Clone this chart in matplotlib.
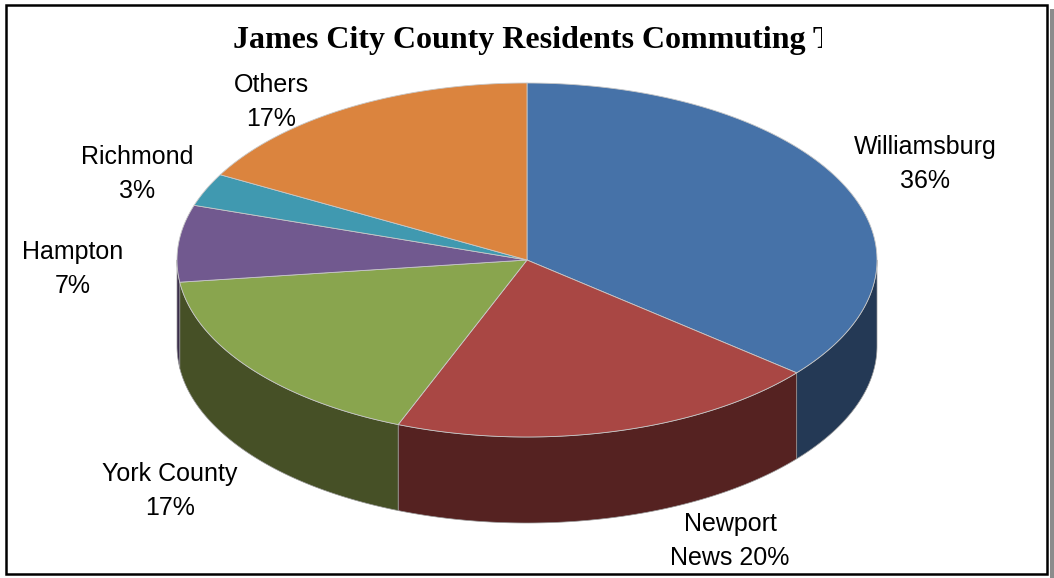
import matplotlib.pyplot as plt
import numpy as np
from matplotlib.patches import Polygon, Rectangle
from matplotlib.transforms import Bbox, TransformedBbox

# commuting destinations, percent of residents
towns = ["Williamsburg", "Newport News", "York County", "Hampton", "Richmond", "Others"]
shares = [36, 20, 17, 7, 3, 17]

top_colors = ["#4672a8", "#a94744", "#89a54e", "#71598f", "#4099b0", "#db843e"]
side_colors = ["#243955", "#552221", "#465026", "#3a2d4b", "#20505c", "#70421f"]

# label text anchors (pixel coords)
label_xy = [(925, 164), (730, 541), (170, 491), (73, 269), (137, 174), (271, 102)]

title = "James City County Residents Commuting To"

W, H = 1054, 578
fig = plt.figure(figsize=(W / 100, H / 100), dpi=100)
ax = fig.add_axes([0, 0, 1, 1])
ax.set_xlim(0, W)
ax.set_ylim(H, 0)
ax.axis('off')

# ellipse geometry of the pie
cx, cy = 527, 260
rx, ry = 350, 177
depth = 86


def arc(t0, t1, dy=0, n=120):
    t = np.radians(np.linspace(t0, t1, n))
    return np.column_stack([cx + rx * np.cos(t), cy - ry * np.sin(t) + dy])


# slice angles, clockwise from 12 o'clock
fracs = np.array(shares) / np.sum(shares)
ends = 90 - 360 * np.cumsum(fracs)
starts = np.concatenate([[90], ends[:-1]])

# side walls (front half only)
for t0, t1, col in zip(starts, ends, side_colors):
    a, b = min(t0, 0), max(t1, -180)
    if a <= b:
        continue
    top = arc(a, b)
    bot = arc(b, a, depth)
    ax.add_patch(Polygon(np.vstack([top, bot]), closed=True, fc=col,
                         ec='#9a9a9a', lw=0.5, joinstyle='round'))

# top face
for t0, t1, col in zip(starts, ends, top_colors):
    pts = np.vstack([[cx, cy], arc(t0, t1)])
    ax.add_patch(Polygon(pts, closed=True, fc=col, ec='#c8c8c8', lw=0.6,
                         joinstyle='round'))

# data labels
for name, v, (lx, ly) in zip(towns, shares, label_xy):
    if name == "Newport News":
        txt = f"Newport\nNews {v}%"
    else:
        txt = f"{name}\n{v}%"
    ax.text(lx, ly, txt, ha='center', va='center', multialignment='center',
            fontsize=18, family='Liberation Sans', color='black',
            linespacing=1.5)

# title, cut off at the right like the original box
t = ax.text(233, 48, title, ha='left', va='baseline', fontsize=23,
            family='Liberation Serif', fontweight='bold', color='black')
t.set_clip_on(True)
t.set_clip_box(TransformedBbox(Bbox.from_extents(0, 0, 822, H), ax.transData))

# frame and its shadow strip
ax.add_patch(Rectangle((6, 5), 1041, 569, fill=False, ec='black', lw=1.8))
ax.add_patch(Rectangle((1050, 9), 4, 569, fc='#8c8c8c', ec='none'))

fig.savefig('out.png', dpi=100)
